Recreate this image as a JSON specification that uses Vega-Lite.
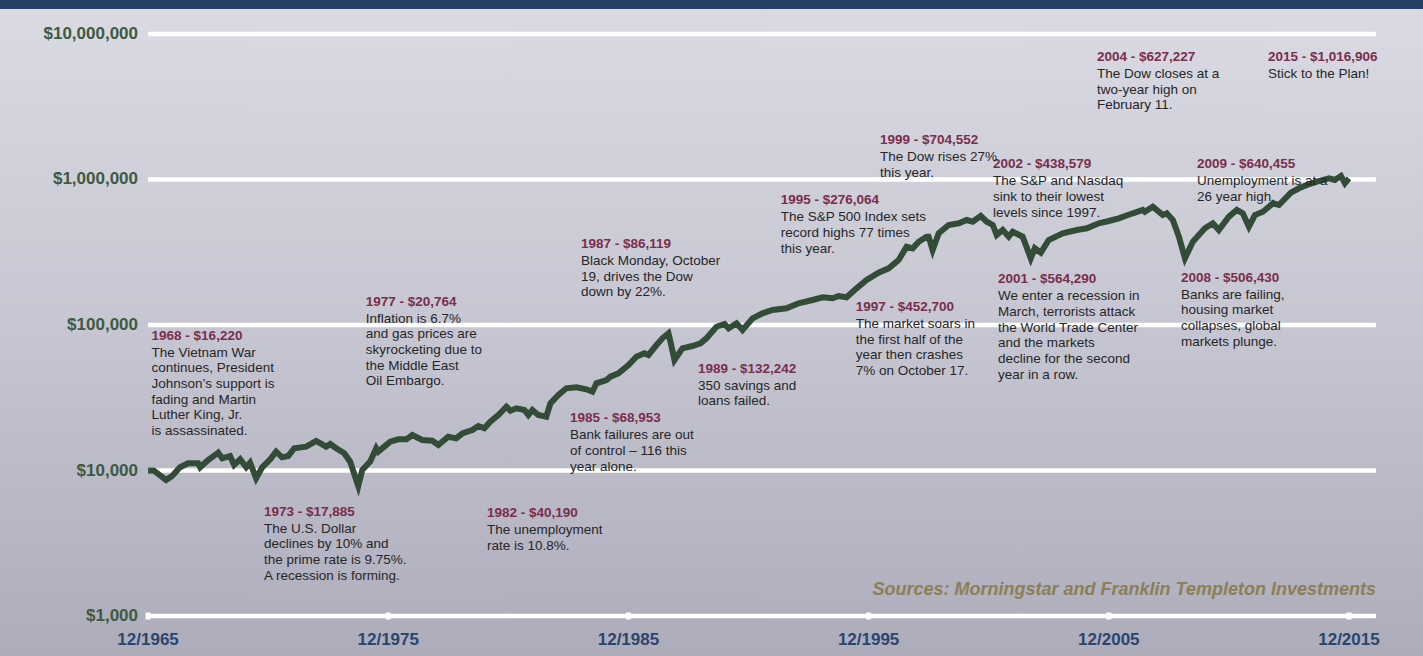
{
  "$schema": "https://vega.github.io/schema/vega-lite/v6.json",
  "width": 1423,
  "height": 647,
  "autosize": {"type": "none"},
  "padding": {"top": 9, "left": 0, "right": 0, "bottom": 0},
  "background": "#263f66",
  "view": {
    "stroke": null,
    "fill": {
      "gradient": "linear", "x1": 0, "y1": 0, "x2": 0, "y2": 1,
      "stops": [
        {"offset": 0, "color": "#d9dae2"},
        {"offset": 0.5, "color": "#c6c6d2"},
        {"offset": 1, "color": "#acacbb"}
      ]
    }
  },
  "config": {"font": "Liberation Sans"},
  "datasets": {
    "growth": [
      {"date": "1965-12", "value": 10000},
      {"date": "1966-03", "value": 9970},
      {"date": "1966-09", "value": 8600},
      {"date": "1966-12", "value": 9170},
      {"date": "1967-04", "value": 10520},
      {"date": "1967-08", "value": 11210},
      {"date": "1968-01", "value": 11210},
      {"date": "1968-02", "value": 10520},
      {"date": "1968-06", "value": 11810},
      {"date": "1968-11", "value": 13260},
      {"date": "1969-01", "value": 12130},
      {"date": "1969-05", "value": 12580},
      {"date": "1969-07", "value": 10910},
      {"date": "1969-10", "value": 11940},
      {"date": "1970-01", "value": 10520},
      {"date": "1970-03", "value": 11310},
      {"date": "1970-06", "value": 8840},
      {"date": "1970-09", "value": 10520},
      {"date": "1971-01", "value": 11940},
      {"date": "1971-04", "value": 13470},
      {"date": "1971-07", "value": 12320},
      {"date": "1971-10", "value": 12580},
      {"date": "1972-01", "value": 14210},
      {"date": "1972-07", "value": 14570},
      {"date": "1972-12", "value": 15950},
      {"date": "1973-05", "value": 14570},
      {"date": "1973-07", "value": 15210},
      {"date": "1973-10", "value": 14210},
      {"date": "1974-02", "value": 13130},
      {"date": "1974-05", "value": 11500},
      {"date": "1974-09", "value": 7830},
      {"date": "1974-11", "value": 10080},
      {"date": "1975-03", "value": 11500},
      {"date": "1975-06", "value": 14210},
      {"date": "1975-07", "value": 13470},
      {"date": "1976-01", "value": 15780},
      {"date": "1976-05", "value": 16380},
      {"date": "1976-09", "value": 16380},
      {"date": "1976-12", "value": 17540},
      {"date": "1977-05", "value": 16200},
      {"date": "1977-10", "value": 16020},
      {"date": "1978-01", "value": 14970},
      {"date": "1978-06", "value": 17070},
      {"date": "1978-10", "value": 16640},
      {"date": "1979-01", "value": 18010},
      {"date": "1979-06", "value": 18980},
      {"date": "1979-09", "value": 20220},
      {"date": "1979-12", "value": 19500},
      {"date": "1980-03", "value": 21650},
      {"date": "1980-07", "value": 24070},
      {"date": "1980-11", "value": 27450},
      {"date": "1981-01", "value": 25760},
      {"date": "1981-04", "value": 26760},
      {"date": "1981-08", "value": 26050},
      {"date": "1981-10", "value": 24070},
      {"date": "1981-12", "value": 26050},
      {"date": "1982-03", "value": 24070},
      {"date": "1982-07", "value": 23430},
      {"date": "1982-09", "value": 28960},
      {"date": "1983-01", "value": 33030},
      {"date": "1983-05", "value": 36720},
      {"date": "1983-10", "value": 37310},
      {"date": "1984-03", "value": 36150},
      {"date": "1984-06", "value": 34800},
      {"date": "1984-08", "value": 39740},
      {"date": "1985-01", "value": 41880},
      {"date": "1985-03", "value": 44130},
      {"date": "1985-07", "value": 46560},
      {"date": "1985-12", "value": 53120},
      {"date": "1986-04", "value": 60560},
      {"date": "1986-08", "value": 63910},
      {"date": "1986-10", "value": 62210},
      {"date": "1987-02", "value": 72860},
      {"date": "1987-05", "value": 81020},
      {"date": "1987-08", "value": 87700},
      {"date": "1987-09", "value": 76790},
      {"date": "1987-11", "value": 57470},
      {"date": "1988-03", "value": 69160},
      {"date": "1988-08", "value": 71730},
      {"date": "1988-12", "value": 74840},
      {"date": "1989-03", "value": 81020},
      {"date": "1989-08", "value": 97340},
      {"date": "1989-12", "value": 101600},
      {"date": "1990-02", "value": 94910},
      {"date": "1990-06", "value": 102700},
      {"date": "1990-09", "value": 92380},
      {"date": "1991-02", "value": 111200},
      {"date": "1991-07", "value": 120300},
      {"date": "1991-12", "value": 126800},
      {"date": "1992-07", "value": 130200},
      {"date": "1993-01", "value": 141000},
      {"date": "1993-08", "value": 148500},
      {"date": "1994-01", "value": 155000},
      {"date": "1994-06", "value": 152600},
      {"date": "1994-09", "value": 158200},
      {"date": "1995-01", "value": 155000},
      {"date": "1995-06", "value": 178700},
      {"date": "1995-11", "value": 203900},
      {"date": "1996-05", "value": 228800},
      {"date": "1996-10", "value": 245300},
      {"date": "1997-03", "value": 279700},
      {"date": "1997-07", "value": 345200},
      {"date": "1997-10", "value": 336600},
      {"date": "1998-01", "value": 373700},
      {"date": "1998-05", "value": 404500},
      {"date": "1998-06", "value": 404500},
      {"date": "1998-08", "value": 327700},
      {"date": "1998-11", "value": 426800},
      {"date": "1999-04", "value": 486800},
      {"date": "1999-09", "value": 500000},
      {"date": "2000-01", "value": 526700},
      {"date": "2000-04", "value": 512900},
      {"date": "2000-08", "value": 561300},
      {"date": "2000-11", "value": 512900},
      {"date": "2001-02", "value": 486800},
      {"date": "2001-04", "value": 415600},
      {"date": "2001-07", "value": 449600},
      {"date": "2001-10", "value": 404500},
      {"date": "2001-12", "value": 437700},
      {"date": "2002-05", "value": 404500},
      {"date": "2002-09", "value": 287300},
      {"date": "2002-11", "value": 336600},
      {"date": "2003-02", "value": 314000},
      {"date": "2003-06", "value": 383900},
      {"date": "2004-01", "value": 426800},
      {"date": "2004-08", "value": 449600},
      {"date": "2005-01", "value": 461900},
      {"date": "2005-07", "value": 500000},
      {"date": "2005-12", "value": 518500},
      {"date": "2006-05", "value": 541100},
      {"date": "2006-12", "value": 585900},
      {"date": "2007-05", "value": 617300},
      {"date": "2007-06", "value": 600900},
      {"date": "2007-10", "value": 650400},
      {"date": "2008-03", "value": 570200},
      {"date": "2008-05", "value": 585900},
      {"date": "2008-08", "value": 526700},
      {"date": "2008-11", "value": 404500},
      {"date": "2009-02", "value": 287300},
      {"date": "2009-06", "value": 373700},
      {"date": "2009-12", "value": 461900},
      {"date": "2010-04", "value": 500000},
      {"date": "2010-07", "value": 449600},
      {"date": "2010-12", "value": 555200},
      {"date": "2011-04", "value": 617300},
      {"date": "2011-07", "value": 585900},
      {"date": "2011-10", "value": 473800},
      {"date": "2012-01", "value": 570200},
      {"date": "2012-05", "value": 600900},
      {"date": "2012-10", "value": 686200},
      {"date": "2013-01", "value": 668000},
      {"date": "2013-07", "value": 811800},
      {"date": "2013-11", "value": 870200},
      {"date": "2014-03", "value": 916700},
      {"date": "2014-08", "value": 965800},
      {"date": "2015-02", "value": 1019000},
      {"date": "2015-05", "value": 992200},
      {"date": "2015-08", "value": 1057000},
      {"date": "2015-10", "value": 941700},
      {"date": "2015-12", "value": 1016906}
    ],
    "levels": [
      {"level": 1000}, {"level": 10000}, {"level": 100000}, {"level": 1000000}, {"level": 10000000}
    ],
    "ticks": [
      {"date": "1965-12", "label": "12/1965"},
      {"date": "1975-12", "label": "12/1975"},
      {"date": "1985-12", "label": "12/1985"},
      {"date": "1995-12", "label": "12/1995"},
      {"date": "2005-12", "label": "12/2005"},
      {"date": "2015-12", "label": "12/2015"}
    ],
    "notes": [
      {"date": "1966-01-23", "level": 94320, "head": "1968 - $16,220", "body": "The Vietnam War\ncontinues, President\nJohnson’s support is\nfading and Martin\nLuther King, Jr.\nis assassinated."},
      {"date": "1974-12-23", "level": 161550, "head": "1977 - $20,764", "body": "Inflation is 6.7%\nand gas prices are\nskyrocketing due to\nthe Middle East\nOil Embargo."},
      {"date": "1970-09-29", "level": 5821, "head": "1973 - $17,885", "body": "The U.S. Dollar\ndeclines by 10% and\nthe prime rate  is 9.75%.\nA recession is forming."},
      {"date": "1980-01-11", "level": 5702, "head": "1982 - $40,190", "body": "The unemployment\nrate is 10.8%."},
      {"date": "1983-06-26", "level": 25520, "head": "1985 - $68,953", "body": "Bank failures are  out\nof control – 116 this\nyear alone."},
      {"date": "1983-12-10", "level": 402500, "head": "1987 - $86,119", "body": "Black Monday, October\n19, drives the Dow\ndown by 22%."},
      {"date": "1988-10-24", "level": 55950, "head": "1989 - $132,242", "body": "350 savings and\nloans failed."},
      {"date": "1992-04-03", "level": 804100, "head": "1995 - $276,064", "body": "The S&P 500 Index sets\nrecord highs 77 times\nthis year."},
      {"date": "1995-05-18", "level": 148500, "head": "1997 - $452,700", "body": "The market soars in\nthe first half of the\nyear then crashes\n7% on October 17."},
      {"date": "1996-05-22", "level": 2087000, "head": "1999 - $704,552", "body": "The Dow rises 27%\nthis year."},
      {"date": "2001-04-20", "level": 230200, "head": "2001 - $564,290", "body": "We enter a recession in\nMarch, terrorists attack\nthe World Trade Center\nand the markets\ndecline for the second\nyear in a row."},
      {"date": "2001-02-03", "level": 1421000, "head": "2002 - $438,579", "body": "The S&P and Nasdaq\nsink to their lowest\nlevels since 1997."},
      {"date": "2005-06-04", "level": 7762000, "head": "2004 - $627,227", "body": "The Dow closes at a\ntwo-year high on\nFebruary 11."},
      {"date": "2008-12-02", "level": 236100, "head": "2008 - $506,430", "body": "Banks are failing,\nhousing market\ncollapses, global\nmarkets plunge."},
      {"date": "2009-08-02", "level": 1428000, "head": "2009 - $640,455", "body": "Unemployment is at a\n26 year high."},
      {"date": "2012-07-17", "level": 7762000, "head": "2015 - $1,016,906", "body": "Stick to the Plan!"}
    ]
  },
  "layer": [
    {
      "data": {"name": "levels"},
      "mark": {"type": "rule", "color": "#ffffff", "strokeWidth": 4.5},
      "encoding": {
        "x": {"datum": {"year": 1965, "month": 12, "date": 1, "utc": true}, "type": "temporal",
              "scale": {"type": "utc", "domain": [{"year": 1959, "month": 10, "date": 2, "utc": true}, {"year": 2018, "month": 12, "date": 31, "utc": true}], "nice": false}, "axis": null},
        "x2": {"datum": {"year": 2017, "month": 1, "date": 15, "utc": true}},
        "y": {"field": "level", "type": "quantitative",
              "scale": {"type": "log", "domain": [531.1, 14852000], "nice": false, "zero": false}, "axis": null}
      }
    },
    {
      "data": {"name": "ticks"},
      "mark": {"type": "tick", "orient": "vertical", "color": "#ffffff", "thickness": 5, "size": 7, "opacity": 1},
      "encoding": {
        "x": {"field": "date", "type": "temporal", "scale": {"type": "utc", "domain": [{"year": 1959, "month": 10, "date": 2, "utc": true}, {"year": 2018, "month": 12, "date": 31, "utc": true}], "nice": false}, "axis": null},
        "y": {"datum": 1000, "type": "quantitative", "scale": {"type": "log", "domain": [531.1, 14852000], "nice": false, "zero": false}, "axis": null}
      }
    },
    {
      "data": {"name": "levels"},
      "mark": {"type": "text", "align": "right", "baseline": "middle", "fontWeight": "bold", "fontSize": 17, "color": "#3e5a40"},
      "encoding": {
        "x": {"datum": {"year": 1965, "month": 7, "date": 1, "utc": true}, "type": "temporal", "scale": {"type": "utc", "domain": [{"year": 1959, "month": 10, "date": 2, "utc": true}, {"year": 2018, "month": 12, "date": 31, "utc": true}], "nice": false}, "axis": null},
        "y": {"field": "level", "type": "quantitative", "scale": {"type": "log", "domain": [531.1, 14852000], "nice": false, "zero": false}, "axis": null},
        "text": {"field": "level", "type": "quantitative", "format": "$,d"}
      }
    },
    {
      "data": {"name": "ticks"},
      "mark": {"type": "text", "align": "center", "baseline": "middle", "fontWeight": "bold", "fontSize": 17, "color": "#29466e"},
      "encoding": {
        "x": {"field": "date", "type": "temporal", "scale": {"type": "utc", "domain": [{"year": 1959, "month": 10, "date": 2, "utc": true}, {"year": 2018, "month": 12, "date": 31, "utc": true}], "nice": false}, "axis": null},
        "y": {"datum": 684, "type": "quantitative", "scale": {"type": "log", "domain": [531.1, 14852000], "nice": false, "zero": false}, "axis": null},
        "text": {"field": "label"}
      }
    },
    {
      "data": {"name": "growth"},
      "mark": {"type": "line", "color": "#324c37", "strokeWidth": 6, "clip": false},
      "encoding": {
        "x": {"field": "date", "type": "temporal", "scale": {"type": "utc", "domain": [{"year": 1959, "month": 10, "date": 2, "utc": true}, {"year": 2018, "month": 12, "date": 31, "utc": true}], "nice": false}, "axis": null},
        "y": {"field": "value", "type": "quantitative", "scale": {"type": "log", "domain": [531.1, 14852000], "nice": false, "zero": false}, "axis": null}
      }
    },
    {
      "data": {"name": "notes"},
      "mark": {"type": "text", "align": "left", "baseline": "top", "fontWeight": "bold", "fontSize": 13.5, "color": "#7b2d4d"},
      "encoding": {
        "x": {"field": "date", "type": "temporal", "scale": {"type": "utc", "domain": [{"year": 1959, "month": 10, "date": 2, "utc": true}, {"year": 2018, "month": 12, "date": 31, "utc": true}], "nice": false}, "axis": null},
        "y": {"field": "level", "type": "quantitative", "scale": {"type": "log", "domain": [531.1, 14852000], "nice": false, "zero": false}, "axis": null},
        "text": {"field": "head"}
      }
    },
    {
      "data": {"name": "notes"},
      "mark": {"type": "text", "align": "left", "baseline": "top", "fontSize": 13.5, "color": "#262626", "dy": 17, "lineBreak": "\n", "lineHeight": 15.7},
      "encoding": {
        "x": {"field": "date", "type": "temporal", "scale": {"type": "utc", "domain": [{"year": 1959, "month": 10, "date": 2, "utc": true}, {"year": 2018, "month": 12, "date": 31, "utc": true}], "nice": false}, "axis": null},
        "y": {"field": "level", "type": "quantitative", "scale": {"type": "log", "domain": [531.1, 14852000], "nice": false, "zero": false}, "axis": null},
        "text": {"field": "body"}
      }
    },
    {
      "data": {"values": [{"source": "Sources: Morningstar and Franklin Templeton Investments"}]},
      "mark": {"type": "text", "align": "right", "baseline": "middle", "fontWeight": "bold", "fontStyle": "italic", "fontSize": 18, "color": "#8c7f56"},
      "encoding": {
        "x": {"datum": {"year": 2017, "month": 1, "date": 15, "utc": true}, "type": "temporal", "scale": {"type": "utc", "domain": [{"year": 1959, "month": 10, "date": 2, "utc": true}, {"year": 2018, "month": 12, "date": 31, "utc": true}], "nice": false}, "axis": null},
        "y": {"datum": 1509, "type": "quantitative", "scale": {"type": "log", "domain": [531.1, 14852000], "nice": false, "zero": false}, "axis": null},
        "text": {"field": "source"}
      }
    }
  ]
}
